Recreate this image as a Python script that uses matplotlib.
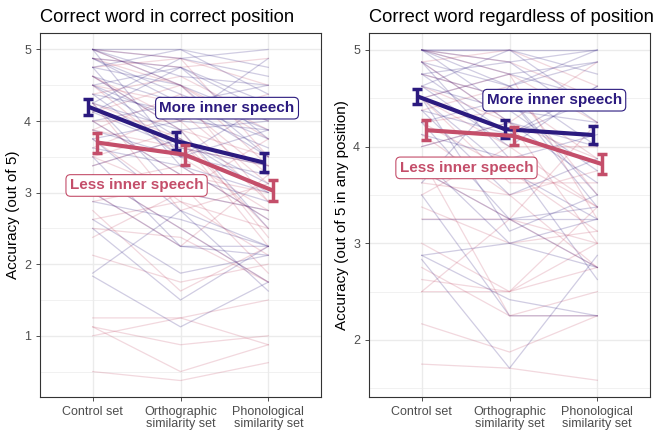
import matplotlib.pyplot as plt
import numpy as np

plt.rcParams['font.family'] = ['Liberation Sans', 'DejaVu Sans']

conditions = ['Control set', 'Orthographic\nsimilarity set', 'Phonological\nsimilarity set']
titles = ['Correct word in correct position', 'Correct word regardless of position']
ylabels = ['Accuracy (out of 5)', 'Accuracy (out of 5 in any position)']

# individual participants: (control, orthographic, phonological)
pos_more = [
    [5, 5, 4.75], [5, 4.875, 5], [5, 4.5, 4], [4.875, 4.75, 4.25], [4.875, 4.25, 3.75],
    [4.75, 5, 4.375], [4.75, 4.5, 3.5], [4.625, 4.25, 4.5], [4.5, 4, 3.875], [4.5, 3.75, 3],
    [4.5, 4.75, 4.125], [4.375, 3.5, 3.25], [4.375, 4.125, 3.625], [4.25, 3.875, 4],
    [4.25, 3, 2.75], [4.125, 3.625, 3.375], [4, 4.25, 3.5], [4, 3.25, 2.875],
    [3.875, 3.5, 4.25], [3.75, 2.75, 2.25], [3.625, 3.375, 3], [3.5, 2.25, 2.25],
    [3.375, 3.75, 3.125], [3.25, 2.5, 1.75], [3, 2.25, 2.125], [2.875, 2.625, 2.25],
    [2.625, 1.875, 2.125], [1.875, 2.75, 1.625], [1.833, 1.125, 1.75], [4.875, 4.375, 3.875],
    [4.625, 3.875, 2.5], [5, 4.625, 4.5], [4.125, 4.75, 3.75], [4.75, 3.375, 2.625],
    [3.75, 4, 4.875], [5, 3.5, 3.875], [4.25, 4.875, 4.625], [2.5, 1.5, 2.25],
]
pos_less = [
    [5, 4.875, 4.5], [4.875, 4.5, 3.75], [4.75, 4.875, 3.5], [4.625, 4, 4.375],
    [4.5, 4.25, 3.25], [4.5, 3.5, 2.75], [4.375, 4.625, 4], [4.25, 3.75, 2.5],
    [4.125, 4.5, 3.875], [4, 3.25, 3], [4, 4, 2.875], [3.875, 3.625, 3.375],
    [3.75, 2.875, 2.5], [3.625, 4.125, 3.125], [3.5, 3, 3.75], [3.375, 3.75, 2.25],
    [3.25, 2.5, 1.75], [3.125, 3.375, 2.625], [3, 2.25, 3.25], [2.875, 3.125, 1.875],
    [2.75, 1.625, 2.25], [2.625, 2.875, 2.125], [2.5, 2.375, 1.75], [2.375, 3, 2.75],
    [2.125, 1.75, 2], [1.25, 1.25, 0.875], [1.125, 0.875, 1], [1, 1.25, 1.5],
    [0.5, 0.375, 0.625], [1.125, 0.5, 0.875], [4.875, 4.75, 4.875], [4.625, 3.875, 3.5],
    [3.875, 4.375, 2.875], [4.25, 2.75, 3.125], [5, 4.5, 3.375], [3.5, 3.875, 2.375],
]
any_more = [
    [5, 5, 5], [5, 4.875, 5], [5, 4.75, 4.5], [5, 5, 4.75], [4.875, 4.625, 4.875],
    [4.875, 4.25, 4], [4.75, 4.875, 4.25], [4.75, 4.5, 3.5], [4.625, 4, 4.625],
    [4.625, 4.375, 3.75], [4.5, 4.75, 4.875], [4.5, 3.75, 3.25], [4.375, 4.125, 4.5],
    [4.375, 3.5, 3.875], [4.25, 4.5, 3.375], [4.25, 3.25, 2.75], [4.125, 3.875, 4.125],
    [4, 4.25, 3.625], [3.875, 3, 3.25], [3.75, 3.25, 3.375], [3.625, 4.625, 4],
    [3.25, 3.25, 3.25], [2.875, 3, 2.75], [2.833, 1.708, 2.875], [2.875, 2.417, 2.25],
    [3.5, 2.25, 2.25], [4.5, 3.125, 3.5], [5, 4.375, 4.25], [4.875, 3.875, 2.625],
    [5, 4.625, 5], [4.75, 4.125, 4.625], [4.625, 5, 4.375],
]
any_less = [
    [5, 4.875, 4.5], [4.875, 5, 4.625], [4.75, 4.5, 3.875], [4.625, 4.25, 4.875],
    [4.5, 4.75, 3.25], [4.5, 4, 4], [4.375, 4.625, 3.5], [4.25, 3.75, 3.125],
    [4.25, 4.375, 4.375], [4.125, 3.5, 3.75], [4, 4.25, 3], [3.875, 3.875, 3.375],
    [3.75, 3.25, 4.25], [3.625, 3.5, 2.75], [3.5, 4, 3.375], [3.375, 3, 3.125],
    [3.25, 3.25, 2.75], [3, 2.5, 3], [2.75, 2.25, 2.5], [2.625, 2.5, 3.375],
    [2.5, 3.25, 3], [2.167, 1.875, 2.25], [1.75, 1.708, 1.583], [2.5, 2.5, 2.75],
    [4.875, 4.25, 3.875], [4.5, 3.625, 3.625], [3.875, 2.25, 2.25], [5, 4.75, 4.25],
]

# group means and standard errors
pos_more_mean = [4.20, 3.72, 3.42]
pos_more_se = [0.11, 0.13, 0.13]
pos_less_mean = [3.70, 3.53, 3.03]
pos_less_se = [0.14, 0.14, 0.14]
any_more_mean = [4.52, 4.18, 4.12]
any_more_se = [0.08, 0.09, 0.09]
any_less_mean = [4.17, 4.11, 3.82]
any_less_se = [0.10, 0.09, 0.10]

purple = '#2B1A7F'
pink = '#C44E6A'

panels = [
    (pos_more, pos_less, pos_more_mean, pos_more_se, pos_less_mean, pos_less_se,
     (0.145, 5.23), [1, 2, 3, 4, 5], [0.5, 1.5, 2.5, 3.5, 4.5], (2.53, 4.18), (1.50, 3.10)),
    (any_more, any_less, any_more_mean, any_more_se, any_less_mean, any_less_se,
     (1.41, 5.175), [2, 3, 4, 5], [1.5, 2.5, 3.5, 4.5], (2.51, 4.48), (1.51, 3.78)),
]

fig = plt.figure(figsize=(6.56, 4.32), dpi=100)
axes = [fig.add_axes([40 / 656, 35 / 432, 281 / 656, 364 / 432]),
        fig.add_axes([369 / 656, 35 / 432, 281 / 656, 364 / 432])]

x = np.arange(1, 4)
for ax, (more, less, mm, ms, lm, ls, ylim, yt, ymin, more_xy, less_xy), title, ylab in zip(
        axes, panels, titles, ylabels):
    for row in less:
        ax.plot(x, row, color=pink, alpha=0.22, lw=0.9, zorder=2)
    for row in more:
        ax.plot(x, row, color=purple, alpha=0.22, lw=0.9, zorder=2)

    ax.plot(x - 0.05, mm, color=purple, lw=3, zorder=4, solid_capstyle='butt')
    ax.errorbar(x - 0.05, mm, yerr=ms, fmt='none', ecolor=purple, elinewidth=2.5,
                capsize=3.5, capthick=2.5, zorder=4)
    ax.plot(x + 0.05, lm, color=pink, lw=3, zorder=4, solid_capstyle='butt')
    ax.errorbar(x + 0.05, lm, yerr=ls, fmt='none', ecolor=pink, elinewidth=2.5,
                capsize=3.5, capthick=2.5, zorder=4)

    ax.text(*more_xy, 'More inner speech', color=purple, fontsize=11, fontweight='bold',
            ha='center', va='center', zorder=5,
            bbox=dict(boxstyle='round,pad=0.25,rounding_size=0.3', fc='white', ec=purple, lw=0.8))
    ax.text(*less_xy, 'Less inner speech', color=pink, fontsize=11, fontweight='bold',
            ha='center', va='center', zorder=5,
            bbox=dict(boxstyle='round,pad=0.25,rounding_size=0.3', fc='white', ec=pink, lw=0.8))

    ax.set_xticks(x)
    ax.set_xticklabels(conditions, fontsize=9, color='#4D4D4D', linespacing=1.0)
    ax.set_yticks(yt)
    ax.set_yticks(ymin, minor=True)
    ax.set_xlim(0.4, 3.6)
    ax.set_ylim(*ylim)
    ax.tick_params(axis='y', which='minor', length=0)
    ax.tick_params(axis='both', which='major', labelsize=9, labelcolor='#4D4D4D',
                   color='#333333', length=3, width=0.6)
    ax.grid(True, which='major', color='#EBEBEB', lw=1.0, zorder=0)
    ax.grid(True, which='minor', axis='y', color='#EBEBEB', lw=0.5, zorder=0)
    ax.set_axisbelow(True)
    for sp in ax.spines.values():
        sp.set_color('#333333')
        sp.set_linewidth(0.8)
    ax.set_title(title, fontsize=13.2, loc='left', pad=8)
    ax.set_ylabel(ylab, fontsize=11, labelpad=3)

fig.savefig('out.png', dpi=100)
